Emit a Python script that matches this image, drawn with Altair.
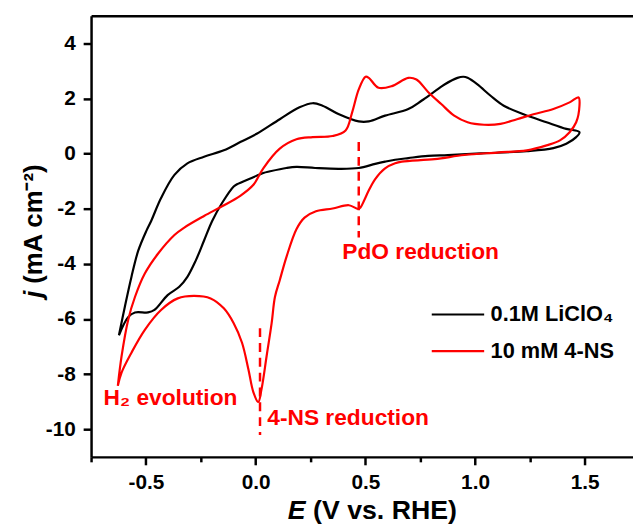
import altair as alt
import pandas as pd

FONT = "Liberation Sans"

# ---- data (E in V vs. RHE, j in mA cm-2) ----
black_E = [-0.623, -0.596, -0.566, -0.535, -0.498, -0.476, -0.431, -0.370, -0.311, -0.235,
           -0.145, -0.070, 0.005, 0.110, 0.200, 0.260, 0.305, 0.380, 0.470, 0.516,
           0.590, 0.696, 0.756, 0.816, 0.861, 0.920, 0.947, 0.966, 1.011, 1.071,
           1.131, 1.221, 1.326, 1.416, 1.476,
           1.461, 1.416, 1.357, 1.236, 1.026, 0.876, 0.786, 0.696, 0.636, 0.590,
           0.545, 0.470, 0.380, 0.271, 0.186, 0.140, 0.066, 0.035, -0.018, -0.085,
           -0.100, -0.153, -0.198, -0.235, -0.273, -0.311, -0.348, -0.401, -0.461, -0.490,
           -0.550, -0.581, -0.623]
black_j = [-6.59, -5.55, -4.47, -3.52, -2.80, -2.44, -1.61, -0.77, -0.35, -0.11,
           0.12, 0.42, 0.72, 1.25, 1.68, 1.83, 1.74, 1.43, 1.17, 1.17,
           1.38, 1.62, 1.92, 2.26, 2.51, 2.75, 2.79, 2.75, 2.51, 2.10,
           1.74, 1.43, 1.14, 0.90, 0.78,
           0.60, 0.36, 0.20, 0.09, 0.01, -0.05, -0.08, -0.16, -0.22, -0.29,
           -0.37, -0.52, -0.55, -0.52, -0.48, -0.52, -0.64, -0.70, -0.88, -1.11,
           -1.19, -1.79, -2.44, -3.15, -3.88, -4.47, -4.83, -5.13, -5.67, -5.76,
           -5.76, -5.93, -6.59]

red_E = [-0.628, -0.611, -0.581, -0.550, -0.505, -0.446, -0.370, -0.325, -0.235, -0.153,
         -0.070, -0.010, 0.035, 0.110, 0.186, 0.260, 0.351, 0.410, 0.440, 0.470,
         0.501, 0.516, 0.560, 0.621, 0.696, 0.733, 0.786, 0.846, 0.905, 0.966,
         1.041, 1.116, 1.191, 1.266, 1.357, 1.431, 1.472,
         1.476, 1.461, 1.431, 1.387, 1.326, 1.236, 1.101, 0.951, 0.816, 0.666,
         0.636, 0.590, 0.545, 0.516, 0.495, 0.478, 0.467, 0.425, 0.351, 0.275,
         0.223, 0.186, 0.140, 0.110, 0.088, 0.073, 0.050, 0.027, 0.012, -0.010,
         -0.033, -0.062, -0.100, -0.145, -0.205, -0.281, -0.355, -0.431, -0.505, -0.566,
         -0.611, -0.628]
red_j = [-8.42, -7.35, -6.03, -5.20, -4.35, -3.64, -2.95, -2.68, -2.26, -1.91,
         -1.53, -1.13, -0.53, 0.18, 0.52, 0.60, 0.64, 0.84, 1.50, 2.33,
         2.79, 2.75, 2.39, 2.45, 2.75, 2.69, 2.24, 1.80, 1.38, 1.14,
         1.05, 1.08, 1.25, 1.43, 1.62, 1.86, 2.04,
         1.74, 1.14, 0.78, 0.48, 0.30, 0.12, 0.04, -0.05, -0.20, -0.29,
         -0.35, -0.53, -0.92, -1.33, -1.69, -1.95, -2.00, -1.87, -1.99, -2.09,
         -2.32, -2.74, -3.76, -4.59, -5.20, -6.15, -7.35, -8.54, -9.01, -8.66,
         -7.82, -6.86, -6.15, -5.61, -5.25, -5.16, -5.25, -5.67, -6.39, -7.22,
         -7.94, -8.42]

series_names = ["0.1M LiClO\u2084", "10 mM 4-NS"]
series_colors = ["#000000", "#ff0000"]

marker_E = [0.470, 0.020]
marker_top = [0.42, -6.33]
marker_bottom = [-3.04, -10.21]

note_text = ["H\u2082 evolution", "4-NS reduction", "PdO reduction"]
note_E = [-0.693, 0.053, 0.395]
note_j = [-9.11, -9.85, -3.82]

x_ticks = [-0.75, -0.5, -0.25, 0.0, 0.25, 0.5, 0.75, 1.0, 1.25, 1.5]
y_ticks = [-10, -8, -6, -4, -2, 0, 2, 4]

# ---- tables ----
rows = []
for i, (e, j) in enumerate(zip(black_E, black_j)):
    rows.append({"E": e, "j": j, "series": series_names[0], "idx": i})
for i, (e, j) in enumerate(zip(red_E, red_j)):
    rows.append({"E": e, "j": j, "series": series_names[1], "idx": i})
curves_df = pd.DataFrame(rows)

markers_df = pd.DataFrame({"E": marker_E, "top": marker_top, "bottom": marker_bottom})
notes_df = pd.DataFrame({"E": note_E, "j": note_j, "text": note_text})

xscale = alt.Scale(domain=[-0.75, 1.72], nice=False, zero=False)
yscale = alt.Scale(domain=[-11, 5], nice=False, zero=False)

minor_test = "abs(round(datum.value*4))%2==1"
bottom_axis = alt.Axis(
    values=x_ticks,
    labelExpr=f"{minor_test} ? '' : (datum.value < 0 ? '-' : '') + format(abs(datum.value), '.1f')",
    tickSize={"condition": {"test": minor_test, "value": 5}, "value": 8},
    tickWidth=2.5, tickColor="black",
    domainWidth=2.5, domainColor="black",
    labelFont=FONT, labelFontSize=21, labelFontWeight="bold", labelColor="black",
    labelPadding=7, labelOverlap=False, labelFlush=False, labelBound=False,
    grid=False, title=None,
)
left_axis = alt.Axis(
    values=y_ticks,
    labelExpr="(datum.value < 0 ? '-' : '') + format(abs(datum.value), 'd')",
    tickSize=8, tickWidth=2.5, tickColor="black",
    domainWidth=2.5, domainColor="black",
    labelFont=FONT, labelFontSize=21, labelFontWeight="bold", labelColor="black",
    labelPadding=8, labelOverlap=False, grid=False, title=None,
)
top_axis = alt.Axis(orient="top", labels=False, ticks=False, domain=True,
                    domainWidth=2.5, domainColor="black", grid=False, title=None)

curves = alt.Chart(curves_df).mark_line(strokeWidth=2.2, interpolate="catmull-rom").encode(
    x=alt.X("E:Q", scale=xscale, axis=bottom_axis),
    y=alt.Y("j:Q", scale=yscale, axis=left_axis),
    color=alt.Color(
        "series:N",
        scale=alt.Scale(domain=series_names, range=series_colors),
        legend=alt.Legend(
            orient="none", legendX=343, legendY=289, title=None,
            symbolType="stroke", symbolSize=2809, symbolStrokeWidth=2.2,
            labelFont=FONT, labelFontSize=22, labelFontWeight="bold", labelColor="black",
            labelOffset=5, rowPadding=11, clipHeight=26, padding=0, offset=0, labelLimit=300,
        ),
    ),
    order=alt.Order("idx:Q"),
)

markers = alt.Chart(markers_df).mark_rule(color="#ff0000", strokeWidth=2.5, strokeDash=[9, 6]).encode(
    x=alt.X("E:Q", scale=xscale, axis=top_axis),
    y=alt.Y("top:Q", scale=yscale, axis=left_axis),
    y2="bottom:Q",
)

notes = alt.Chart(notes_df).mark_text(
    align="left", baseline="alphabetic", font=FONT, fontSize=23, fontWeight="bold", color="#ff0000"
).encode(
    x=alt.X("E:Q", scale=xscale, axis=None),
    y=alt.Y("j:Q", scale=yscale, axis=left_axis),
    text="text:N",
)

def label(text, x, y, size, style="normal", angle=0):
    return alt.Chart(pd.DataFrame({"t": [text]})).mark_text(
        align="left", baseline="alphabetic", font=FONT, fontSize=size, fontWeight="bold",
        fontStyle=style, color="black", angle=angle,
    ).encode(text="t:N", x=alt.value(x), y=alt.value(y))

xt1 = label("E", 199, 509, 27, "italic")
xt2 = label("(V vs. RHE)", 224.5, 509, 27)
yt1 = label("j", -50, 285, 26, "italic", 270)
yt2 = label("(mA cm\u207b\u00b2)", -50, 271, 26, "normal", 270)

chart = alt.layer(curves, markers, notes, xt1, xt2, yt1, yt2).resolve_axis(
    x="independent"
).properties(
    width=548, height=446,
    autosize=alt.AutoSizeParams(type="none"),
    padding={"left": 84, "top": 5, "right": 0, "bottom": 70},
).configure_view(stroke=None)

chart.save("out.html", embed_options={"renderer": "svg", "actions": False})
